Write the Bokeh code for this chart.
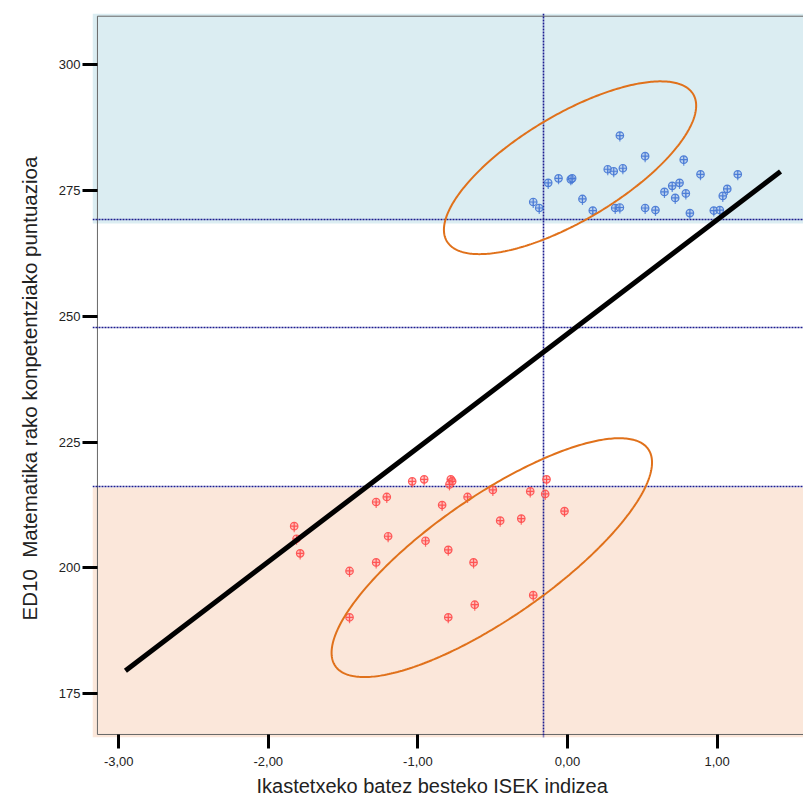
import numpy as np
from bokeh.plotting import figure
from bokeh.models import FixedTicker, Title
from bokeh.embed import file_html
from bokeh.resources import INLINE

# ---------------- data ----------------
high_x = [0.350, 0.519, 0.777, 0.269, 0.309, 0.370, 0.889, 1.138, -0.060, 0.022,
          0.031, -0.129, 0.749, 0.700, 1.068, 0.648, 0.791, 1.038, 0.100, 0.720,
          -0.229, -0.189, 0.169, 0.319, 0.350, 0.519, 0.588, 0.818, 0.978, 1.018]
high_y = [285.9, 281.8, 281.1, 279.2, 278.8, 279.4, 278.2, 278.2, 277.4, 277.2,
          277.4, 276.5, 276.5, 275.9, 275.3, 274.7, 274.4, 273.9, 273.3, 273.5,
          272.7, 271.5, 271.0, 271.5, 271.6, 271.5, 271.1, 270.5, 271.0, 271.1]

low_x = [-1.038, -0.958, -0.780, -0.771, -0.789, -0.499, -0.249, -0.140, -0.149, -1.279,
         -1.208, -0.838, -0.668, -0.020, -0.450, -0.309, -1.827, -1.787, -1.199, -0.949,
         -0.797, -1.279, -0.628, -1.457, -0.229, -0.620, -1.457, -0.797, -1.811]
low_y = [217.2, 217.6, 217.6, 217.2, 216.6, 215.5, 215.2, 217.6, 214.7, 213.1,
         214.1, 212.5, 214.1, 211.3, 209.4, 209.8, 208.3, 202.9, 206.3, 205.4,
         203.6, 201.1, 201.1, 199.4, 194.6, 192.7, 190.2, 190.2, 205.8]

fit_x = [-2.955, 1.424]
fit_y = [179.6, 278.75]

mean_x = [-0.162]
ref_y = [269.2, 247.7, 216.1]
high_band_from = 268.4
low_band_to = 215.9

ell_cx = [0.017, -0.506]
ell_cy = [279.5, 202.05]
ell_ax = [0.843, 1.071]
ell_by = [17.16, 23.72]
ell_phase_deg = [44.1, 37.2]

x_ticks = [-3, -2, -1, 0, 1]
x_tick_labels = ["-3,00", "-2,00", "-1,00", "0,00", "1,00"]
y_ticks = [175, 200, 225, 250, 275, 300]

x_title = "Ikastetxeko batez besteko ISEK indizea"
y_title = "ED10\u00a0 Matematika rako konpetentziako puntuazioa"

# ---------------- figure ----------------
X0, X1 = -3.1751, 1.5775
Y0, Y1 = 166.32, 310.14
p = figure(width=803, height=801, x_range=(X0, X1), y_range=(Y0, Y1),
           output_backend="svg", toolbar_location=None,
           min_border_left=92, min_border_right=0, min_border_top=13, min_border_bottom=64)
p.outline_line_color = None
p.xgrid.visible = False
p.ygrid.visible = False
p.background_fill_color = "white"
p.border_fill_color = "white"

FONT = "Liberation Sans"

# shaded bands
p.hstrip(y0=[high_band_from], y1=[Y1], fill_color="#dbedf2", line_color=None)
p.hstrip(y0=[Y0], y1=[low_band_to], fill_color="#fbe7da", line_color=None)

# frame lines (left, bottom, top)
FX = -3.142
FY0 = 166.92
FY1 = 309.6
p.segment(x0=[FX, FX, FX], y0=[FY0, FY0, FY1], x1=[FX, X1, X1], y1=[FY1, FY0, FY1],
          line_color="#666666", line_width=1)

# reference dotted lines
p.hspan(y=ref_y, line_color="#1c1c8f", line_width=1.6, line_dash="2 1")
p.vspan(x=mean_x, line_color="#1c1c8f", line_width=1.6, line_dash="2 1")

# points with stems
def pts(xs, ys, col, fill):
    xs = np.array(xs)
    ys = np.array(ys)
    p.segment(x0=xs, y0=ys, x1=xs, y1=ys - 1.2, line_color=col, line_width=1.2, line_alpha=0.8)
    p.scatter(xs, ys, marker="circle_cross", size=7.5, line_color=col, fill_color=fill,
              fill_alpha=0.5, line_width=1.2, line_alpha=0.9)

pts(high_x, high_y, "#4376d4", "#9bb8ea")
pts(low_x, low_y, "#ff4a4a", "#ff9c9c")

# regression line
p.line(fit_x, fit_y, line_color="black", line_width=5)

# ellipses
t = np.linspace(0, 2 * np.pi, 361)
for cx, cy, ax, by, ph in zip(ell_cx, ell_cy, ell_ax, ell_by, ell_phase_deg):
    ex = cx + ax * np.cos(t)
    ey = cy + by * np.cos(t - np.deg2rad(ph))
    p.line(ex, ey, line_color="#e0711b", line_width=2)

# axes
for ax_ in (p.xaxis[0], p.yaxis[0]):
    ax_.axis_line_color = None
    ax_.minor_tick_line_color = None
    ax_.major_tick_line_color = "black"
    ax_.major_tick_line_width = 3
    ax_.major_label_text_font = FONT
    ax_.major_label_text_font_size = "13px"
    ax_.major_label_text_color = "#222222"

p.xaxis.ticker = FixedTicker(ticks=x_ticks)
p.xaxis.major_label_overrides = {k: v for k, v in zip(x_ticks, x_tick_labels)}
p.xaxis.major_tick_in = 3
p.xaxis.major_tick_out = 11
p.xaxis.major_label_standoff = 8

p.yaxis.ticker = FixedTicker(ticks=y_ticks)
p.yaxis.major_label_overrides = {k: str(k) for k in y_ticks}
p.yaxis.major_tick_in = 5
p.yaxis.major_tick_out = 10
p.yaxis.major_label_standoff = 2

# axis titles
p.add_layout(Title(text=x_title, align="left", offset=164, standoff=8,
                   text_font=FONT, text_font_size="20px", text_font_style="normal",
                   text_color="#222222"), "below")
p.add_layout(Title(text=y_title, align="left", offset=117, standoff=30,
                   text_font=FONT, text_font_size="20.5px", text_font_style="normal",
                   text_color="#222222"), "left")

open("out.html", "w").write(file_html(p, INLINE))
